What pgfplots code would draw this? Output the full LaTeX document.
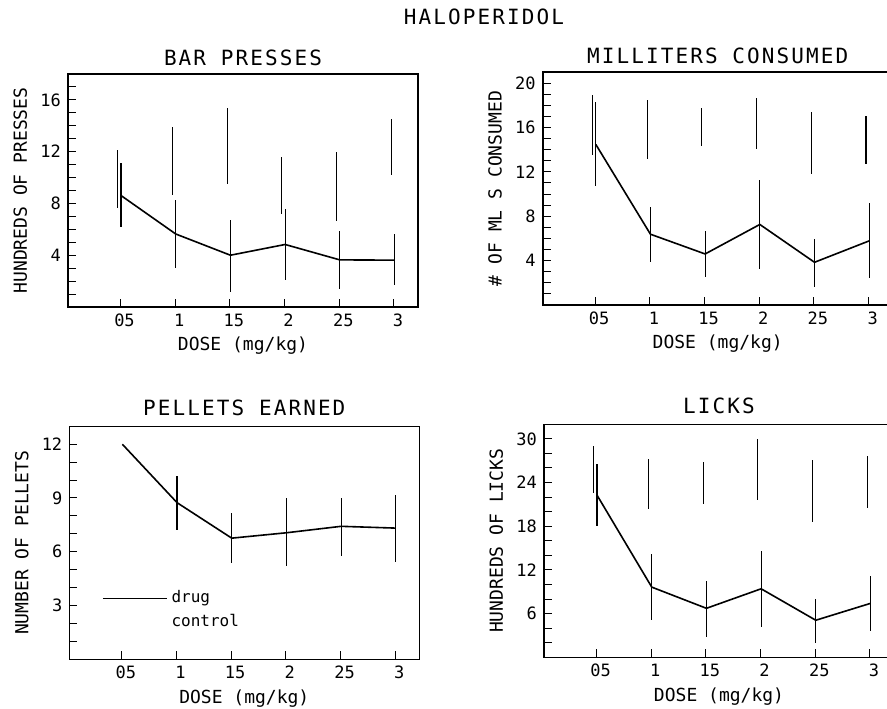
\documentclass[border=0pt]{standalone}
\usepackage{fontspec}
\setmainfont{DejaVu Sans Mono}
\newfontfamily\ttlfont[LetterSpace=10]{DejaVu Sans Mono}
\usepackage{pgfplots}
\usepackage{pgfplotstable}
\pgfplotsset{compat=1.18}

% drug: mean with asymmetric bars; control: range only
\pgfplotstableread{
x y ep em
0.505 8.61 2.52 2.46
1.005 5.64 2.59 2.60
1.505 4.00 2.75 2.83
2.005 4.83 2.77 2.77
2.505 3.64 2.25 2.23
3.005 3.62 2.02 1.95
}\pressdrug
\pgfplotstableread{
x y e
0.475 9.90 2.25
0.975 11.27 2.61
1.475 12.43 2.92
1.975 9.37 2.19
2.475 9.29 2.68
2.975 12.34 2.17
}\pressctrl
\pgfplotstableread{
x y ep em
0.505 14.48 3.83 3.72
1.005 6.38 2.42 2.47
1.505 4.60 2.03 2.05
2.005 7.26 4.04 4.04
2.505 3.85 2.11 2.20
3.005 5.78 3.41 3.38
}\mldrug
\pgfplotstableread{
x y e
0.475 16.20 2.72
0.975 15.84 2.66
1.475 16.06 1.74
1.975 16.39 2.31
2.475 14.63 2.78
2.975 14.90 2.15
}\mlctrl
\pgfplotstableread{
x y ep em
0.505 12.00 0.00 0.00
1.005 8.74 1.47 1.55
1.505 6.76 1.40 1.39
2.005 7.06 1.94 1.86
2.505 7.42 1.58 1.63
3.005 7.32 1.87 1.90
}\pelletdrug
\pgfplotstableread{
x y ep em
0.505 22.26 4.32 4.24
1.005 9.64 4.56 4.55
1.505 6.73 3.78 3.92
2.005 9.41 5.24 5.23
2.505 5.09 2.91 3.10
3.005 7.41 3.78 3.73
}\lickdrug
\pgfplotstableread{
x y e
0.475 25.79 3.21
0.975 23.78 3.48
1.475 23.97 2.85
1.975 25.78 4.21
2.475 22.85 4.25
2.975 24.12 3.55
}\lickctrl

\pgfplotsset{
  panel/.style={
    scale only axis, width=175pt, height=116.5pt,
    anchor=south west,
    xmin=0.02, xmax=3.22, ymin=0,
    xtick={0.5,1,1.5,2,2.5,3},
    xticklabels={05,1,15,2,25,3},
    xtick pos=bottom, ytick pos=left,
    tick align=inside,
    major tick length=4pt, minor tick length=4pt,
    tick style={black, line width=0.5pt},
    axis line style={line width=0.8pt},
    /pgf/number format/assume math mode=true,
    ticklabel style={font=\fontsize{8.5}{10}\selectfont},
    xticklabel style={xshift=2pt},
    xlabel={DOSE (mg/kg)},
    label style={font=\fontsize{9}{11}\selectfont},
    xlabel style={at={(axis description cs:0.5,-0.167)}, anchor=center},
    ylabel style={at={(axis description cs:-0.136,0.5)}, anchor=center, rotate=0},
    title style={font=\ttlfont\fontsize{10.5}{12}\selectfont,
      at={(axis description cs:0.5,1)}, anchor=center, yshift=2pt},
  },
  bars/.style={
    error bars/y dir=both, error bars/y explicit,
    error bars/error mark=none,
    error bars/error bar style={draw=black, line width=0.6pt}},
  drug/.style={black, line width=0.8pt, mark=none, bars},
  ctrl/.style={draw=none, mark=none, bars},
}

\begin{document}
\begin{tikzpicture}
\path[use as bounding box] (0,0) rectangle (443.5pt,354pt);
\clip (0,0) rectangle (443.5pt,354pt);
\node[font=\ttlfont\fontsize{10.5}{12}\selectfont] at (242pt,345.5pt) {HALOPERIDOL};

\begin{axis}[panel, at={(34pt,200.5pt)}, ymax=18,
  ytick={4,8,12,16}, minor ytick={1,...,17},
  title={BAR PRESSES}, ylabel={HUNDREDS OF PRESSES}]
\addplot[ctrl] table[x=x, y=y, y error=e] {\pressctrl};
\addplot[drug] table[x=x, y=y, y error plus=ep, y error minus=em] {\pressdrug};
\end{axis}

\begin{axis}[panel, at={(271.35pt,201.5pt)}, ymax=21,
  ytick={4,8,12,16,20}, minor ytick={1,...,20},
  title={MILLITERS CONSUMED}, ylabel={\# OF ML S CONSUMED}]
\addplot[ctrl] table[x=x, y=y, y error=e] {\mlctrl};
\addplot[drug] table[x=x, y=y, y error plus=ep, y error minus=em] {\mldrug};
\end{axis}

\begin{axis}[panel, at={(34.65pt,24.35pt)}, ymax=13,
  ytick={3,6,9,12}, minor ytick={1,...,12},
  title={PELLETS EARNED}, ylabel={NUMBER OF PELLETS},
  title style={yshift=1pt},
  legend style={at={(axis description cs:0.075,0.33)}, anchor=north west,
    draw=none, fill=none, font=\fontsize{8}{9}\selectfont,
    row sep=0pt},
  legend cell align=left]
\addplot[legend image code/.code={\draw[line width=0.8pt] (0pt,0pt) -- (32pt,0pt);}, drug]
  table[x=x, y=y, y error plus=ep, y error minus=em] {\pelletdrug};
\addlegendentry{drug}
\addlegendimage{empty legend}
\addlegendentry{control}
\end{axis}

\begin{axis}[panel, at={(272pt,25.35pt)}, ymax=32,
  ytick={6,12,18,24,30}, minor ytick={2,4,...,30},
  title={LICKS}, ylabel={HUNDREDS OF LICKS},
  title style={yshift=1pt}]
\addplot[ctrl] table[x=x, y=y, y error=e] {\lickctrl};
\addplot[drug] table[x=x, y=y, y error plus=ep, y error minus=em] {\lickdrug};
\end{axis}
\end{tikzpicture}
\end{document}
